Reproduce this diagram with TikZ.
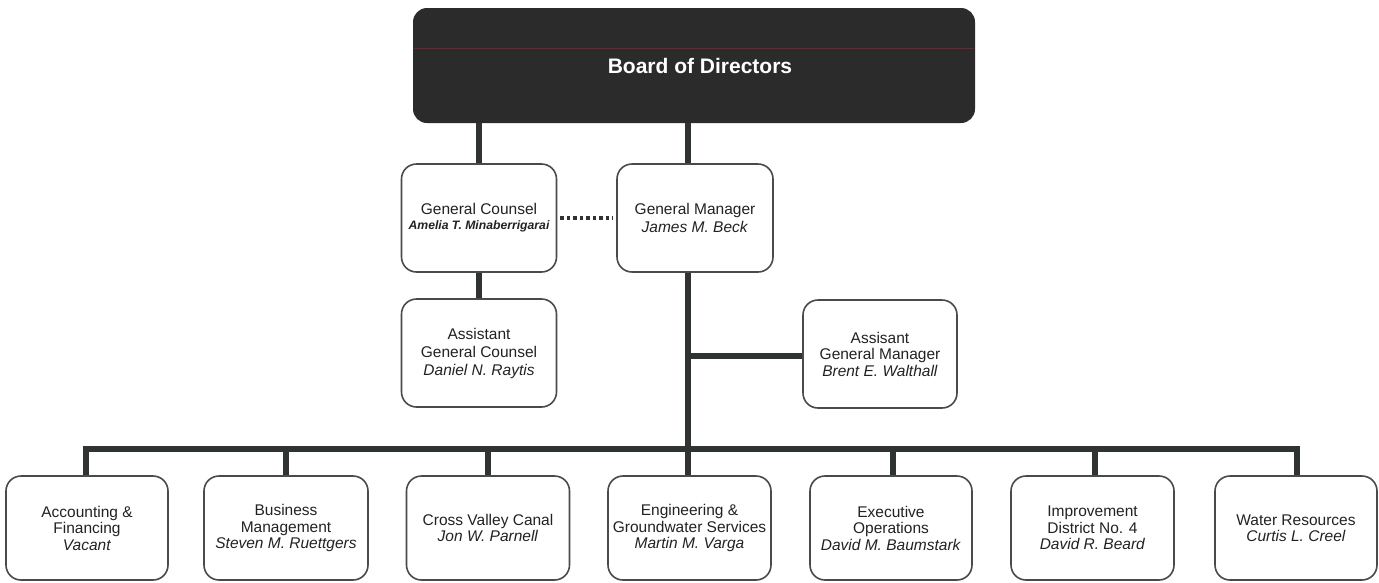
\documentclass[tikz,border=0pt]{standalone}
\usepackage{fontspec}
\setmainfont{Liberation Sans}
\definecolor{boardc}{HTML}{2B2B2B}
\definecolor{redl}{HTML}{7A2030}
\definecolor{boxc}{HTML}{4A4A4A}
\definecolor{linec}{HTML}{2F3433}
\definecolor{txt}{HTML}{222222}
\begin{document}
\begin{tikzpicture}[x=1pt,y=-1pt,
  box/.style={draw=boxc, line width=1.6pt, rounded corners=15pt, fill=white,
    align=center, text=txt, font=\fontsize{15.5}{18}\selectfont, inner sep=0pt,
    minimum width=155pt, minimum height=108pt},
  dept/.style={box, minimum width=162pt, minimum height=104pt,
    font=\fontsize{15.5}{16.5}\selectfont},
  conn/.style={line width=6pt, draw=linec},
  dotconn/.style={line width=3.5pt, draw=linec, dash pattern=on 3.5pt off 3pt},
  boardst/.style={fill=boardc, rounded corners=14pt, text=white,
    font=\fontsize{21}{24}\selectfont\bfseries, minimum width=562pt,
    minimum height=115pt, inner sep=0pt}
]
\useasboundingbox (0,0) rectangle (1379,582);

% Board
\node[boardst] (board) at (694,65.5) {\hspace{12pt}Board of Directors};
\coordinate (rl) at (414,48);
\coordinate (rr) at (974,48);
\draw[redl, line width=0.7pt] (rl) -- (rr);

% second level
\node[box] (gc) at (479,218) {General Counsel\\[-3pt]{\fontsize{12.2}{14}\selectfont\bfseries\itshape Amelia T. Minaberrigarai}};
\node[box, minimum width=156pt] (gm) at (695,218) {General Manager\\\textit{James M. Beck}};
\node[box] (agc) at (479,353) {Assistant\\General Counsel\\\textit{Daniel N. Raytis}};
\node[box, minimum width=154pt, font=\fontsize{15.5}{16.5}\selectfont] (agm) at (880,354) {Assisant\\General Manager\\\textit{Brent E. Walthall}};

% departments
\node[dept] (d1) at (87,528) {Accounting \&\\Financing\\\textit{Vacant}};
\node[dept, minimum width=164pt] (d2) at (286,528) {Business\\Management\\\textit{Steven M. Ruettgers}};
\node[dept, minimum width=163pt] (d3) at (488,528) {Cross Valley Canal\\\textit{Jon W. Parnell}};
\node[dept, minimum width=163pt] (d4) at (689.5,528) {Engineering \&\\Groundwater Services\\\textit{Martin M. Varga}};
\node[dept] (d5) at (891,528) {Executive\\Operations\\\textit{David M. Baumstark}};
\node[dept, minimum width=163pt] (d6) at (1092.5,528) {Improvement\\District No. 4\\\textit{David R. Beard}};
\node[dept, minimum width=162pt] (d7) at (1296,528) {Water Resources\\\textit{Curtis L. Creel}};

% connector helper coordinates
\coordinate (gmx) at (688,0);
\coordinate (busy) at (0,449);
\coordinate (agmy) at (0,356);
\coordinate (b1) at (86,449);
\coordinate (b7) at (1297,449);

% connectors
\draw[conn] (board.south -| gc) -- (gc.north);
\draw[conn] (board.south -| gmx) -- (gm.north -| gmx);
\draw[conn] (gc.south) -- (agc.north);
\draw[dotconn, shorten <=3pt, shorten >=3pt] (gc.east) -- (gm.west);
\draw[conn] (gm.south -| gmx) -- (busy -| gmx);
\draw[conn] (agmy -| gmx) -- (agm.west |- agmy);
\draw[conn, line cap=rect] (b1) -- (b7);
\draw[conn] (b1) -- (d1.north -| b1);
\draw[conn] (busy -| d2) -- (d2.north);
\draw[conn] (busy -| d3) -- (d3.north);
\draw[conn] (busy -| gmx) -- (d4.north -| gmx);
\draw[conn] ([xshift=2pt]busy -| d5) -- ([xshift=2pt]d5.north);
\draw[conn] ([xshift=2.5pt]busy -| d6) -- ([xshift=2.5pt]d6.north);
\draw[conn] (b7) -- (d7.north -| b7);
\end{tikzpicture}
\end{document}
